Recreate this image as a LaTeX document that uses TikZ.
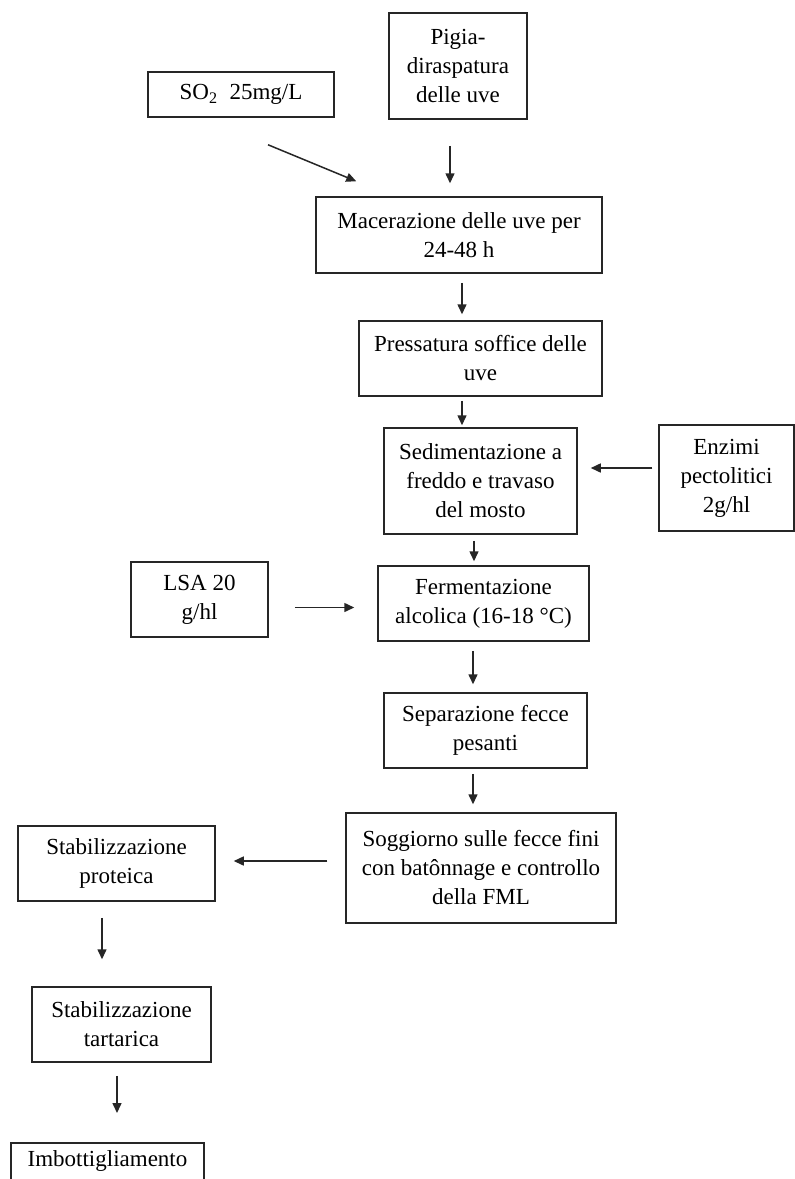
\documentclass[tikz,border=0pt]{standalone}
\usepackage{fontspec}
\setmainfont{Liberation Serif}
\usetikzlibrary{arrows.meta}

\begin{document}
\begin{tikzpicture}[x=0.5pt,y=-0.5pt,
		font=\fontsize{11.5}{14.5}\selectfont,
		stepbox/.style={draw=black!85,line width=0.75pt,align=center,inner sep=0pt},
		flow/.style={draw=black!85,line width=0.75pt,-{Triangle[length=5pt,width=4.5pt]}}]
		% Frame
		\fill[white] (0,0) rectangle (795,1179);
		\useasboundingbox (0,0) rectangle (795,1179);
		\clip (0,0) rectangle (795,1179);
		
		% Define boxes
		\node[stepbox,minimum width=93pt,minimum height=22.5pt] (so2) at (241,94.5) {SO\textsubscript{2}\hspace{0.5em}25mg/L};
		\node[stepbox,minimum width=69pt,minimum height=53pt] (pigia) at (458,66) {Pigia-\\diraspatura\\delle uve};
		\node[stepbox,minimum width=143pt,minimum height=38pt] (mac) at (459,235) {Macerazione delle uve per\\24-48 h};
		\node[stepbox,minimum width=121.5pt,minimum height=37.5pt] (press) at (480.5,358.5) {Pressatura soffice delle\\uve};
		\node[stepbox,minimum width=96.5pt,minimum height=53pt] (sedim) at (480.5,481) {Sedimentazione a\\freddo e travaso\\del mosto};
		\node[stepbox,minimum width=67.5pt,minimum height=53pt] (enz) at (726.5,478) {Enzimi\\pectolitici\\2g/hl};
		\node[stepbox,minimum width=68.5pt,minimum height=37.5pt] (lsa) at (199.5,599.5) {LSA 20\\g/hl};
		\node[stepbox,minimum width=105.5pt,minimum height=37.5pt] (ferm) at (483.5,603.5) {Fermentazione\\alcolica (16-18 °C)};
		\node[stepbox,minimum width=101.5pt,minimum height=37.5pt] (sep) at (485.5,730.5) {Separazione fecce\\pesanti};
		\node[stepbox,minimum width=135pt,minimum height=55pt] (sogg) at (481,868) {Soggiorno sulle fecce fini\\con batônnage e controllo\\della FML};
		\node[stepbox,minimum width=98.5pt,minimum height=37.5pt] (prot) at (116.5,863.5) {Stabilizzazione\\proteica};
		\node[stepbox,minimum width=89.5pt,minimum height=37.5pt] (tart) at (121.5,1024.5) {Stabilizzazione\\tartarica};
		\node[stepbox,minimum width=96.5pt,text height=12pt,text depth=28pt,anchor=north] (imb) at (107.5,1142) {Imbottigliamento};
		
		% Draw arrows
		\draw[flow] ([xshift=13.5pt,yshift=-13.5pt]so2.south) -- ([xshift=20.5pt,yshift=7.5pt]mac.north west);
		\draw[flow,shorten <=13pt,shorten >=6.5pt] ([xshift=-4pt]pigia.south) -- ([xshift=-4pt]pigia.south |- mac.north);
		\draw[flow,shorten <=4.5pt,shorten >=3pt] ([xshift=1.5pt]mac.south) -- ([xshift=1.5pt]mac.south |- press.north);
		\draw[flow,shorten <=2pt,shorten >=1pt] ([xshift=-9.25pt]press.south) -- ([xshift=-9.25pt]press.south |- sedim.north);
		\draw[flow,shorten <=3pt,shorten >=6.5pt] ([yshift=5pt]enz.west) -- ([yshift=5pt]enz.west -| sedim.east);
		\draw[flow,shorten <=3pt,shorten >=2pt] ([xshift=-3.25pt]sedim.south) -- ([xshift=-3.25pt]sedim.south |- ferm.north);
		\draw[flow,shorten <=13pt,shorten >=11.5pt] ([yshift=-4pt]lsa.east) -- ([yshift=-4pt]lsa.east -| ferm.west);
		\draw[flow,shorten <=4.5pt,shorten >=4pt] ([xshift=-5.25pt]ferm.south) -- ([xshift=-5.25pt]ferm.south |- sep.north);
		\draw[flow,shorten <=2.5pt,shorten >=4pt] ([xshift=-6.25pt]sep.south) -- ([xshift=-6.25pt]sep.south |- sogg.north);
		\draw[flow,shorten <=9pt,shorten >=9pt] ([yshift=3.5pt]sogg.west) -- ([yshift=3.5pt]sogg.west -| prot.east);
		\draw[flow,shorten <=8pt,shorten >=13.5pt] ([xshift=-7.25pt]prot.south) -- ([xshift=-7.25pt]prot.south |- tart.north);
		\draw[flow,shorten <=6.5pt,shorten >=14.5pt] ([xshift=-2.25pt]tart.south) -- ([xshift=-2.25pt]tart.south |- imb.north);
	\end{tikzpicture}
\end{document}
